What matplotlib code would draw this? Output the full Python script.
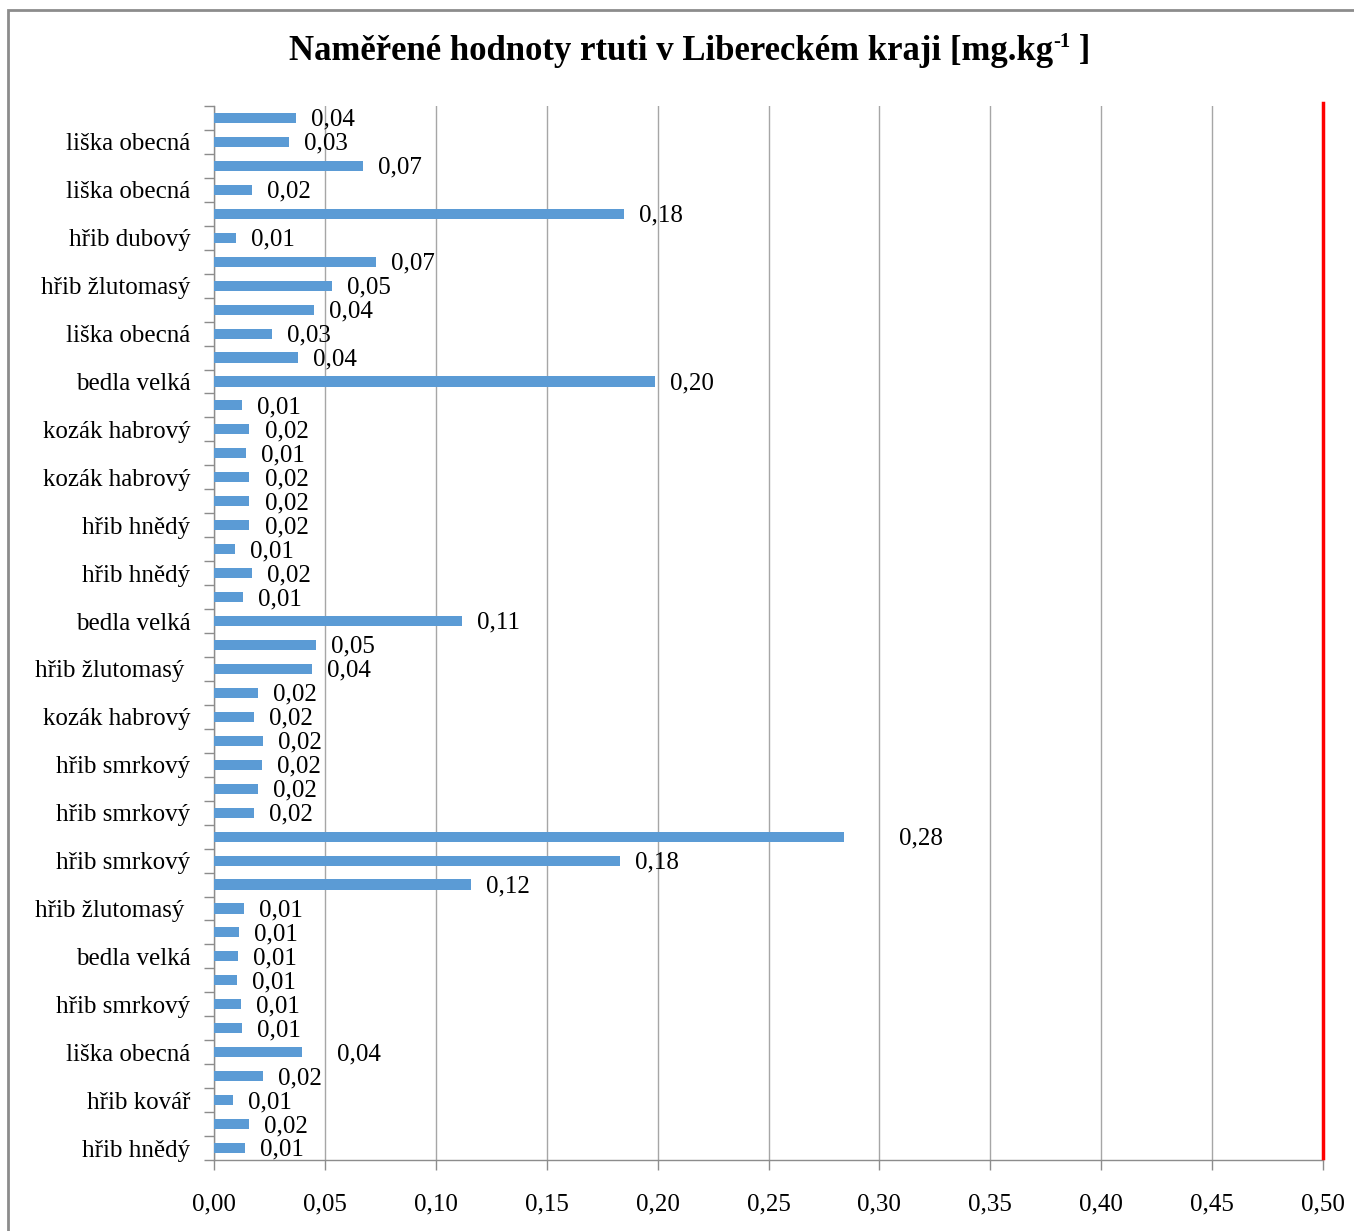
import matplotlib
matplotlib.use("Agg")
import matplotlib.pyplot as plt
from matplotlib.ticker import FuncFormatter, FixedLocator
from matplotlib.patches import Rectangle

plt.rcParams['font.family'] = ['Liberation Serif', 'DejaVu Serif']

# Data (top to bottom as shown)
values = [0.037, 0.034, 0.067, 0.017, 0.185, 0.010, 0.073, 0.053, 0.045, 0.026,
          0.038, 0.199, 0.0126, 0.016, 0.0144, 0.016, 0.016, 0.016, 0.0095, 0.017,
          0.013, 0.112, 0.046, 0.044, 0.020, 0.018, 0.022, 0.0216, 0.020, 0.018,
          0.284, 0.183, 0.116, 0.0135, 0.0113, 0.0108, 0.0104, 0.012, 0.0126, 0.0397,
          0.022, 0.0086, 0.0158, 0.014]
# labels shown on every second bar (bars 2, 4, ..., 44)
shown_labels = ["liška obecná", "liška obecná", "hřib dubový", "hřib žlutomasý",
                "liška obecná", "bedla velká", "kozák habrový", "kozák habrový",
                "hřib hnědý", "hřib hnědý", "bedla velká", "hřib žlutomasý ",
                "kozák habrový", "hřib smrkový", "hřib smrkový", "hřib smrkový",
                "hřib žlutomasý ", "bedla velká", "hřib smrkový", "liška obecná",
                "hřib kovář", "hřib hnědý"]
limit_value = 0.5
x_ticks = [0.00, 0.05, 0.10, 0.15, 0.20, 0.25, 0.30, 0.35, 0.40, 0.45, 0.50]
title_main = "Naměřené hodnoty rtuti v Libereckém kraji [mg.kg"
title_sup = "-1"
title_end = " ]"

# extra label shifts (in data units) for manually moved labels
label_shift = {30: 0.018, 39: 0.009}

W, H = 1354, 1231
FS = 18
fig = plt.figure(figsize=(W / 100, H / 100), dpi=100)
ax = fig.add_axes([214 / W, 1 - 1160 / H, (1323 - 214) / W, (1160 - 106) / H])

n = len(values)
ypos = list(range(n))
ax.barh(ypos, values, height=0.42, color='#5B9BD5', zorder=3)
ax.set_ylim(n - 0.5, -0.5)
ax.set_xlim(0, 0.5)

fmt = lambda v: f"{v:.2f}".replace('.', ',')
for i, v in enumerate(values):
    ax.text(v + 0.0068 + label_shift.get(i, 0), i + 0.08, fmt(v), va='center', ha='left',
            fontsize=FS, color='black', zorder=4)

# x axis
ax.xaxis.set_major_locator(FixedLocator(x_ticks))
ax.xaxis.set_major_formatter(FuncFormatter(lambda v, p: fmt(v)))
ax.tick_params(axis='x', length=7, width=1, color='#8c8c8c', pad=17, labelsize=FS)
ax.grid(axis='x', color='#a6a6a6', linewidth=1, zorder=0)

# y axis
ax.set_yticks([i for i in range(1, n, 2)])
ax.set_yticklabels(shown_labels)
ax.set_yticks([i - 0.5 for i in range(n + 1)], minor=True)
ax.tick_params(axis='y', which='major', length=0, pad=17, labelsize=FS)
ax.tick_params(axis='y', which='minor', length=7, width=1, color='#8c8c8c')

for s in ['top', 'right']:
    ax.spines[s].set_visible(False)
for s in ['left', 'bottom']:
    ax.spines[s].set_color('#8c8c8c')
    ax.spines[s].set_linewidth(1)

# limit line
ax.plot([limit_value, limit_value], [n - 0.6, -0.62], color='#ff0000', linewidth=2.5,
        zorder=5, clip_on=False)

# title with superscript, laid out piecewise
renderer = fig.canvas.get_renderer()
TFS = 25
ty = 1 - 51 / H
parts = [fig.text(0, ty, title_main, ha='left', va='center', fontsize=TFS, fontweight='bold'),
         fig.text(0, ty + 9 / H, title_sup, ha='left', va='center', fontsize=TFS * 0.6, fontweight='bold'),
         fig.text(0, ty, title_end, ha='left', va='center', fontsize=TFS, fontweight='bold')]
widths = [p.get_window_extent(renderer).width for p in parts]
x = 690 - sum(widths) / 2
for p, w in zip(parts, widths):
    p.set_x(x / W)
    x += w

# chart border
fig.patches.append(Rectangle((8 / W, -0.05), 1.2, 1 - 10 / H + 0.05, transform=fig.transFigure,
                             fill=False, edgecolor='#8c8c8c', linewidth=2))

fig.savefig("out.png", dpi=100, facecolor='white')
